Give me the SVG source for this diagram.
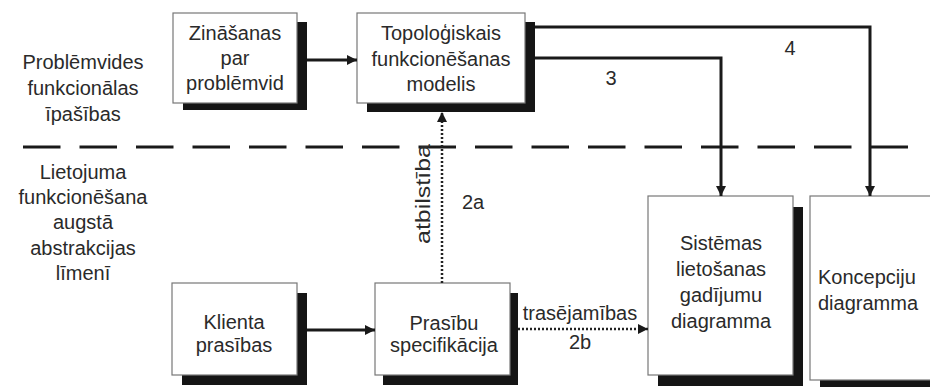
<svg xmlns="http://www.w3.org/2000/svg" width="930" height="387" viewBox="0 0 930 387">
<style>
text{font-family:"Liberation Sans",Arial,sans-serif;font-size:20px;fill:#2a2a2a;text-anchor:middle}
.box{fill:#fff;stroke:#777;stroke-width:1.2}
.sh{fill:#151515}
.con{fill:none;stroke:#1a1a1a;stroke-width:3}
.dot{fill:none;stroke:#222;stroke-width:2.5;stroke-dasharray:2 2}
.sep{stroke:#1a1a1a;stroke-width:3;stroke-dasharray:37.5 19}
</style>
<defs>
<marker id="ah" viewBox="0 0 10 10" refX="10" refY="5" markerWidth="12" markerHeight="10" markerUnits="userSpaceOnUse" orient="auto">
<path d="M0,0 L10,5 L0,10 Z" fill="#1a1a1a"/>
</marker>
</defs>
<rect width="930" height="387" fill="#fff"/>
<g id="labels">
<text x="83" y="69">Problēmvides</text>
<text x="83" y="95">funkcionālas</text>
<text x="83" y="121">īpašības</text>
<text x="83" y="179">Lietojuma</text>
<text x="83" y="204">funkcionēšana</text>
<text x="83" y="229">augstā</text>
<text x="83" y="255">abstrakcijas</text>
<text x="83" y="280">līmenī</text>
</g>
<line class="sep" x1="23" y1="147" x2="908" y2="147"/>
<g id="zinasanas">
<rect class="sh" x="183" y="22" width="124" height="88"/>
<rect class="box" x="173" y="13" width="124" height="90"/>
<text x="235" y="40">Zināšanas</text>
<text x="235" y="65">par</text>
<text x="235" y="90">problēmvid</text>
</g>
<g id="topologiskais">
<rect class="sh" x="367" y="22" width="168" height="90"/>
<rect class="box" x="357" y="13" width="168" height="90"/>
<text x="441" y="40">Topoloģiskais</text>
<text x="441" y="66">funkcionēšanas</text>
<text x="441" y="91">modelis</text>
</g>
<g id="klienta">
<rect class="sh" x="182" y="293" width="125" height="92"/>
<rect class="box" x="172" y="283" width="125" height="92"/>
<text x="234" y="329">Klienta</text>
<text x="234" y="352">prasības</text>
</g>
<g id="prasibu">
<rect class="sh" x="383" y="293" width="135" height="92"/>
<rect class="box" x="375" y="283" width="135" height="92"/>
<text x="444" y="330">Prasību</text>
<text x="444" y="352">specifikācija</text>
</g>
<g id="sistemas">
<rect class="sh" x="658" y="207" width="145" height="179"/>
<rect class="box" x="648" y="196" width="145" height="179"/>
<text x="721" y="250">Sistēmas</text>
<text x="721" y="276">lietošanas</text>
<text x="721" y="302">gadījumu</text>
<text x="721" y="328">diagramma</text>
</g>
<g id="koncepciju">
<rect class="sh" x="820" y="207" width="130" height="184"/>
<rect class="box" x="810" y="196" width="140" height="184"/>
<text x="818" y="284" style="text-anchor:start">Koncepciju</text>
<text x="818" y="310" style="text-anchor:start">diagramma</text>
</g>
<g id="connectors">
<path class="con" d="M307,60 H357" marker-end="url(#ah)"/>
<path class="con" d="M535,58 H721 V196" marker-end="url(#ah)"/>
<path class="con" d="M535,27 H870 V196" marker-end="url(#ah)"/>
<path class="con" d="M307,330 H375" marker-end="url(#ah)"/>
<path class="dot" d="M442,283 V112" marker-end="url(#ah)"/>
<path class="dot" d="M518,329 H648" marker-end="url(#ah)"/>
<text x="611" y="85">3</text>
<text x="790" y="55">4</text>
<text x="473" y="209">2a</text>
<text x="580" y="320">trasējamības</text>
<text x="580" y="349">2b</text>
<text transform="translate(430,194) rotate(-90)" textLength="100" lengthAdjust="spacingAndGlyphs">atbilstība</text>
</g>
</svg>
